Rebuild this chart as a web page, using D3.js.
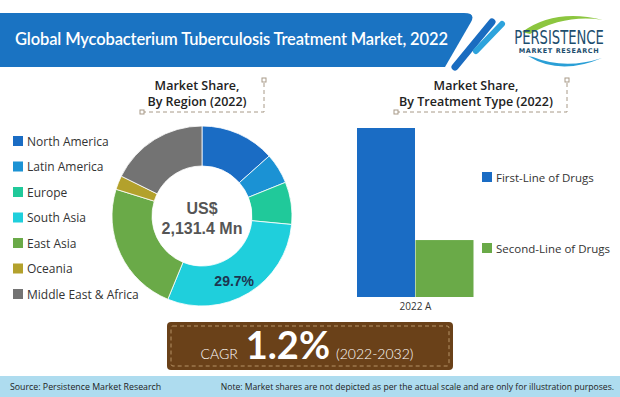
<!DOCTYPE html>
<html>
<head>
<meta charset="utf-8">
<script src="https://cdn.jsdelivr.net/npm/d3@7"></script>
<style>
  html, body { margin: 0; padding: 0; background: #fff; }
  svg { display: block; font-family: "Open Sans", sans-serif; }
</style>
</head>
<body>
<svg id="svg" width="620" height="397"></svg>
<script>
// region shares (%)
var regions = ["North America", "Latin America", "Europe", "South Asia", "East Asia", "Oceania", "Middle East & Africa"];
var regionShare = [13.4, 5.5, 7.6, 29.7, 23.6, 2.5, 17.7];
var regionColors = ["#1a6cc4", "#1b92d4", "#20c99a", "#1fcfdc", "#6aaa48", "#b3a12c", "#737373"];

// treatment type bars
var treatments = ["First-Line of Drugs", "Second-Line of Drugs"];
var treatmentShare = [74.8, 25.2];
var treatmentColors = ["#1a6cc4", "#6aaa48"];
var barCategory = ["2022 A"];

var svg = d3.select("#svg");

// ---- header banner
svg.append("path")
  .attr("d", "M0,13 H464 Q476,13 471,22 L445,67 H0 Z")
  .attr("fill", "#1a73c2");
svg.append("line").attr("x1", 492).attr("y1", 22).attr("x2", 455).attr("y2", 67)
  .attr("stroke", "#1a6cc0").attr("stroke-width", 7).attr("stroke-linecap", "round");
svg.append("line").attr("x1", 502).attr("y1", 24).attr("x2", 476).attr("y2", 51)
  .attr("stroke", "#2da3dc").attr("stroke-width", 6).attr("stroke-linecap", "round");
svg.append("text")
  .attr("x", 15).attr("y", 45)
  .attr("fill", "#fff")
  .attr("font-size", 16.5)
  .attr("font-weight", 600)
  .attr("font-family", "Lato, sans-serif")
  .attr("textLength", 433)
  .text("Global Mycobacterium Tuberculosis Treatment Market, 2022");

// ---- logo
var logo = svg.append("g");
logo.append("path").attr("d", "M522,32 Q555,8 603,20 Q565,14 530,34 Z").attr("fill", "#8cc63f");
logo.append("path").attr("d", "M528,56 Q560,76 602,58 Q565,70 533,57 Z").attr("fill", "#2a9fd6");
logo.append("text").attr("transform", "translate(559,44) scale(0.77,1)")
  .attr("text-anchor", "middle")
  .attr("font-family", "'Liberation Sans Narrow', 'DejaVu Sans Condensed', sans-serif")
  .attr("font-size", 19).attr("fill", "#1d4e6e")
  .text("PERSISTENCE");
logo.append("text").attr("x", 559).attr("y", 53).attr("text-anchor", "middle")
  .attr("font-family", "'DejaVu Sans', sans-serif").attr("font-weight", "bold")
  .attr("font-size", 6.5).attr("fill", "#1d4e6e").attr("letter-spacing", 0.6)
  .text("MARKET RESEARCH");

// ---- section titles with dashed brackets
function sectionTitle(cx, lines, x0, x1) {
  var g = svg.append("g");
  lines.forEach(function(t, i) {
    g.append("text").attr("x", cx).attr("y", 90 + i * 16)
      .attr("text-anchor", "middle").attr("font-size", 12.5)
      .attr("font-weight", 600).attr("fill", "#222").text(t);
  });
  g.append("path").attr("d", "M" + x0 + ",112 H" + x1 + " V81")
    .attr("fill", "none").attr("stroke", "#a89a88").attr("stroke-dasharray", "4,3");
  g.append("rect").attr("x", x0 - 2).attr("y", 110).attr("width", 4).attr("height", 4)
    .attr("fill", "#fff").attr("stroke", "#a89a88");
  g.append("rect").attr("x", x1 - 2).attr("y", 78).attr("width", 4).attr("height", 4)
    .attr("fill", "#fff").attr("stroke", "#a89a88");
}
sectionTitle(197, ["Market Share,", "By Region (2022)"], 142, 264);
sectionTitle(476, ["Market Share,", "By Treatment Type (2022)"], 396, 567);

// ---- donut
var cx = 202, cy = 216;
var pie = d3.pie().sort(null).value(function(d) { return d; });
var arc = d3.arc().innerRadius(50).outerRadius(90);
var arcs = pie(regionShare);
var donut = svg.append("g").attr("transform", "translate(" + cx + "," + cy + ")");
donut.selectAll("path").data(arcs).enter().append("path")
  .attr("d", arc)
  .attr("fill", function(d, i) { return regionColors[i]; })
  .attr("stroke", "#fff").attr("stroke-width", 0.8);

// label of the biggest slice, placed inside the ring
var sa = arcs[3];
var la = sa.startAngle + (sa.endAngle - sa.startAngle) * 0.55;
donut.append("text")
  .attr("x", 74 * Math.sin(la)).attr("y", -74 * Math.cos(la))
  .attr("text-anchor", "middle").attr("dominant-baseline", "middle")
  .attr("font-family", "'Liberation Sans', Arial, sans-serif")
  .attr("font-weight", "bold").attr("font-size", 14).attr("fill", "#1d3550")
  .text(regionShare[3].toFixed(1) + "%");

donut.append("text").attr("x", 0).attr("y", -2).attr("text-anchor", "middle")
  .attr("font-family", "'Liberation Sans', Arial, sans-serif")
  .attr("font-weight", "bold").attr("font-size", 16).attr("fill", "#555").text("US$");
donut.append("text").attr("x", 0).attr("y", 18).attr("text-anchor", "middle")
  .attr("font-family", "'Liberation Sans', Arial, sans-serif")
  .attr("font-weight", "bold").attr("font-size", 16).attr("fill", "#555").text("2,131.4 Mn");

// ---- region legend
var legY = d3.scalePoint().domain(regions).range([141, 294]);
var leg = svg.append("g");
leg.selectAll("rect").data(regions).enter().append("rect")
  .attr("x", 13).attr("y", function(d) { return legY(d) - 5; })
  .attr("width", 10).attr("height", 10)
  .attr("fill", function(d, i) { return regionColors[i]; });
leg.selectAll("text").data(regions).enter().append("text")
  .attr("x", 27).attr("y", function(d) { return legY(d); })
  .attr("dominant-baseline", "central")
  .attr("font-size", 12).attr("fill", "#333")
  .text(function(d) { return d; });

// ---- bar chart
var xBand = d3.scaleBand().domain(barCategory).range([357, 474]);
var xSub = d3.scaleBand().domain(treatments).range([0, xBand.bandwidth()]);
var yScale = d3.scaleLinear().domain([0, d3.max(treatmentShare)]).range([297, 128]);
var bars = svg.append("g");
bars.selectAll("rect").data(treatmentShare).enter().append("rect")
  .attr("x", function(d, i) { return xBand(barCategory[0]) + xSub(treatments[i]); })
  .attr("y", function(d) { return yScale(d); })
  .attr("width", xSub.bandwidth() - 0.5)
  .attr("height", function(d) { return yScale(0) - yScale(d); })
  .attr("fill", function(d, i) { return treatmentColors[i]; });

var xAxis = svg.append("g").attr("transform", "translate(0,297)")
  .call(d3.axisBottom(xBand).tickSize(0).tickPadding(6));
xAxis.select(".domain").remove();
xAxis.selectAll("text").attr("font-size", 10).attr("fill", "#333")
  .attr("font-family", "'Open Sans', sans-serif");

// treatment legend
var legY2 = d3.scaleOrdinal().domain(treatments).range([177, 248]);
var leg2 = svg.append("g");
leg2.selectAll("rect").data(treatments).enter().append("rect")
  .attr("x", 482).attr("y", function(d) { return legY2(d) - 5; })
  .attr("width", 10).attr("height", 10)
  .attr("fill", function(d, i) { return treatmentColors[i]; });
leg2.selectAll("text").data(treatments).enter().append("text")
  .attr("x", 496).attr("y", function(d) { return legY2(d); })
  .attr("dominant-baseline", "central")
  .attr("font-size", 11.5).attr("fill", "#333")
  .text(function(d) { return d; });

// ---- CAGR box
var cagr = svg.append("g");
cagr.append("rect").attr("x", 167).attr("y", 322).attr("width", 286).attr("height", 48)
  .attr("rx", 4).attr("fill", "#6a4119");
cagr.append("rect").attr("x", 171).attr("y", 326).attr("width", 278).attr("height", 40)
  .attr("rx", 2).attr("fill", "none").attr("stroke", "#c8a678")
  .attr("stroke-width", 0.8).attr("stroke-dasharray", "4,3");
var ct = cagr.append("text").attr("x", 307).attr("y", 359).attr("text-anchor", "middle")
  .attr("fill", "#fff").attr("font-family", "Lato, sans-serif");
ct.append("tspan").attr("font-size", 14).attr("font-weight", 300).text("CAGR");
ct.append("tspan").attr("dx", 8).attr("font-size", 38).attr("font-weight", 700).text("1.2%");
ct.append("tspan").attr("dx", 6).attr("font-size", 14).attr("font-weight", 300).text("(2022-2032)");

// ---- footer
svg.append("rect").attr("x", 0).attr("y", 376).attr("width", 620).attr("height", 21).attr("fill", "#aedcef");
svg.append("text").attr("x", 10).attr("y", 390).attr("font-size", 8.8).attr("fill", "#222")
  .text("Source: Persistence Market Research");
svg.append("text").attr("x", 614).attr("y", 390).attr("text-anchor", "end")
  .attr("font-size", 8.6).attr("fill", "#222")
  .text("Note: Market shares are not depicted as per the actual scale and are only for illustration purposes.");
</script>
</body>
</html>
